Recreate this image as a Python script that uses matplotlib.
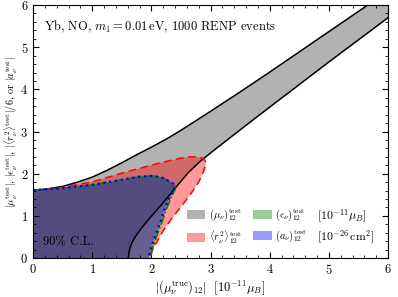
import numpy as np
import matplotlib
matplotlib.use("Agg")
import matplotlib.pyplot as plt
from matplotlib.ticker import AutoMinorLocator
from matplotlib.patches import Patch

plt.rcParams.update({
    'font.family': 'serif',
    'font.serif': ['cmr10'],
    'mathtext.fontset': 'cm',
    'axes.formatter.use_mathtext': True,
    'font.size': 9,
})

# boundary of the mu_nu band (upper edge, then lower edge)
mu_up_x = [0, 0.25, 0.5, 0.75, 1.0, 1.25, 1.5, 1.75, 2.0, 2.25, 2.5, 3.0, 3.5, 4.0, 5.0, 6.0]
mu_up_y = [1.61, 1.64, 1.70, 1.80, 1.92, 2.08, 2.26, 2.45, 2.63, 2.82, 3.03, 3.48, 3.94, 4.41, 5.37, 6.33]
mu_lo_x = [1.61, 1.62, 1.64, 1.68, 1.74, 1.81, 1.89, 1.98, 2.08, 2.19, 2.31, 2.45, 2.62, 2.82, 3.07, 3.5, 4.0, 5.0, 6.0]
mu_lo_y = [0.0, 0.12, 0.25, 0.39, 0.53, 0.67, 0.81, 0.96, 1.12, 1.30, 1.50, 1.74, 2.02, 2.29, 2.57, 3.04, 3.58, 4.65, 5.70]

# charge radius contour
r2_x = [0, 0.46, 1.01, 1.59, 2.15, 2.31, 2.5, 2.65, 2.77, 2.86, 2.91, 2.92, 2.88, 2.80, 2.68, 2.52, 2.35, 2.20, 2.08, 2.00, 1.96, 1.94]
r2_y = [1.61, 1.67, 1.81, 2.05, 2.26, 2.31, 2.37, 2.40, 2.40, 2.37, 2.31, 2.22, 2.05, 1.80, 1.55, 1.25, 0.95, 0.65, 0.35, 0.14, 0.05, 0.0]

# millicharge contour
eps_x = [0, 0.46, 1.01, 1.59, 1.80, 2.03, 2.20, 2.31, 2.38, 2.41, 2.40, 2.34, 2.25, 2.18, 2.10, 2.03, 2.00, 1.99]
eps_y = [1.61, 1.65, 1.74, 1.88, 1.93, 1.95, 1.90, 1.81, 1.76, 1.71, 1.62, 1.45, 1.15, 0.85, 0.55, 0.27, 0.10, 0.0]

# anapole contour
a_x = [0, 0.46, 1.01, 1.59, 1.80, 2.03, 2.20, 2.31, 2.38, 2.40, 2.38, 2.31, 2.22, 2.15, 2.07, 2.00, 1.97, 1.96]
a_y = [1.61, 1.65, 1.74, 1.88, 1.93, 1.95, 1.90, 1.81, 1.76, 1.72, 1.62, 1.45, 1.15, 0.85, 0.55, 0.27, 0.10, 0.0]

fig = plt.figure(figsize=(3.98, 2.97), dpi=100)
ax = fig.add_axes([0.083, 0.131, 0.892, 0.852])

#fill regions
band_x = mu_up_x + mu_lo_x[::-1] + [0]
band_y = mu_up_y + mu_lo_y[::-1] + [0]
ax.fill(band_x, band_y, color='k', alpha=0.3, lw=0)
ax.fill(r2_x + [0], r2_y + [0], color='red', alpha=0.4, lw=0)
ax.fill(eps_x + [0], eps_y + [0], color='green', alpha=0.4, lw=0)
ax.fill(a_x + [0], a_y + [0], color='blue', alpha=0.33, lw=0)

#edges
ax.plot(mu_up_x, mu_up_y, 'k-', lw=1.1)
ax.plot(mu_lo_x, mu_lo_y, 'k-', lw=1.1)
ax.plot(r2_x, r2_y, color='red', ls=(0, (5, 3)), lw=1.1)
ax.plot(eps_x, eps_y, color='green', ls='-.', lw=1.1)
ax.plot(a_x, a_y, color='blue', ls=':', lw=1.6)

ax.set_xlim(0, 6)
ax.set_ylim(0, 6)
ax.xaxis.set_minor_locator(AutoMinorLocator(5))
ax.yaxis.set_minor_locator(AutoMinorLocator(5))
ax.tick_params(which='both', direction='in', top=True, right=True)
ax.tick_params(which='major', length=4)
ax.tick_params(which='minor', length=2)

ax.set_xlabel(r'$|(\mu_\nu^{\rm true})_{12}|\ \ [10^{-11}\mu_B]$', labelpad=1)
ax.set_ylabel(r'$|\mu_\nu^{\rm test}|$, $|\epsilon_\nu^{\rm test}|$, $|\langle r_\nu^2\rangle^{\rm test}|/6$, or $|a_\nu^{\rm test}|$',
              fontsize=7.4)
ax.yaxis.set_label_coords(-0.037, 0.5)

ax.text(0.031, 0.913, r'Yb, NO, $m_1=0.01\,\mathrm{eV}$, 1000 RENP events', transform=ax.transAxes, va='center')
ax.text(0.028, 0.063, r'90% C.L.', transform=ax.transAxes, va='center')

handles = [Patch(color='k', alpha=0.3, lw=0), Patch(color='red', alpha=0.4, lw=0),
           Patch(color='green', alpha=0.4, lw=0), Patch(color='blue', alpha=0.4, lw=0)]
labels = [r'$(\mu_\nu)_{12}^{\rm test}$', r'$\langle r_\nu^2\rangle_{12}^{\rm test}$',
          r'$(\epsilon_\nu)_{12}^{\rm test}$', r'$(a_\nu)_{12}^{\rm test}$']
ax.legend(handles, labels, ncol=2, loc='lower left', bbox_to_anchor=(0.418, 0.028),
          frameon=False, fontsize=7.5, borderpad=0, handlelength=1.8, handleheight=0.9,
          handletextpad=0.35, columnspacing=1.0, labelspacing=0.55)
ax.text(0.80, 0.166, r'$[10^{-11}\mu_B]$', transform=ax.transAxes, va='center', fontsize=8.5)
ax.text(0.80, 0.083, r'$[10^{-26}\,\mathrm{cm}^2]$', transform=ax.transAxes, va='center', fontsize=8.5)

fig.savefig('out.png', dpi=100)
